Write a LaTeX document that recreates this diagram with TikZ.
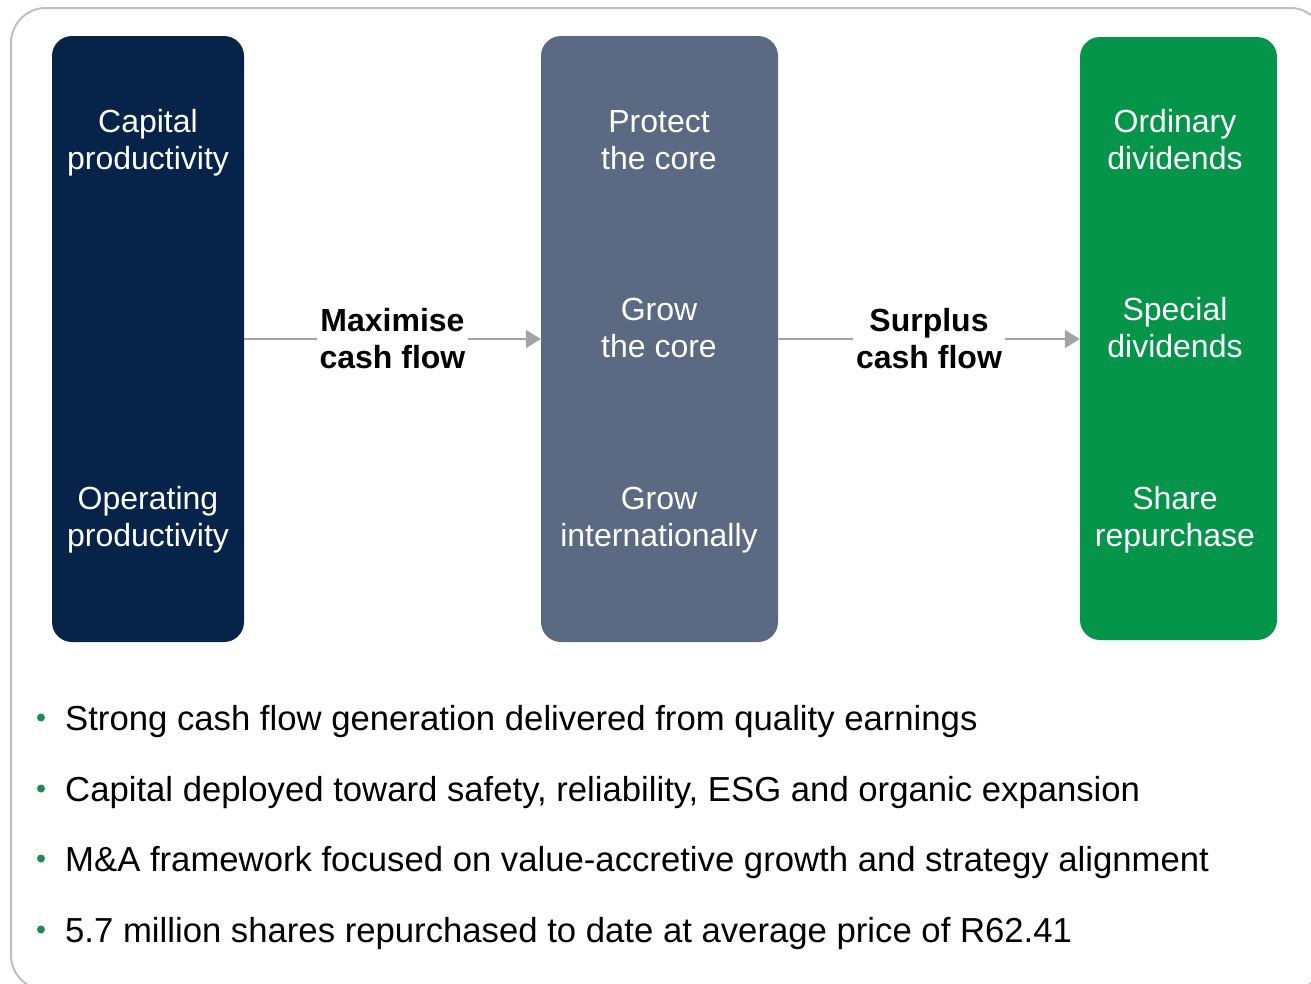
\documentclass[tikz,border=0pt]{standalone}
\usepackage{fontspec}
\setmainfont{Liberation Sans}
\usetikzlibrary{arrows.meta}

\definecolor{navy}{HTML}{06234A}
\definecolor{slate}{HTML}{5B6A82}
\definecolor{leaf}{HTML}{04944A}
\definecolor{dot}{HTML}{1E8C4E}
\definecolor{frame}{HTML}{BFBFBF}
\definecolor{link}{HTML}{A3A3A3}

\tikzset{
    column/.style={rounded corners=20, minimum height=606},
    inbox/.style={text=white, align=center, font=\fontsize{32}{37}\selectfont},
    flowlabel/.style={fill=white, inner xsep=3, inner ysep=2, align=center, font=\fontsize{32}{37}\selectfont\bfseries},
    flow/.style={draw=link, line width=2, -{Triangle[length=15,width=18]}},
    bullet/.style={anchor=base west, font=\fontsize{34.7}{40}\selectfont, inner sep=0}
}

\begin{document}
\begin{tikzpicture}[x=1pt, y=-1pt]
    \clip (0,0) rectangle (1311,983);
    \draw[frame, line width=2, rounded corners=35] (11,8) rectangle (1325,990);

    \node[column, fill=navy, minimum width=192] (cap) at (148,339) {};
    \node[column, fill=slate, minimum width=237] (core) at (659.5,339) {};
    \node[column, fill=leaf, minimum width=197, minimum height=603] (ret) at (1178.5,338.5) {};

    \node[inbox] (capp) at (148,143) {Capital\\productivity};
    \node[inbox] (opp) at (148,520) {Operating\\productivity};
    \node[inbox] (prot) at (659,140) {Protect\\the core};
    \node[inbox] (grow) at (659,328) {Grow\\the core};
    \node[inbox] (intl) at (659,520) {Grow\\internationally};
    \node[inbox] (ord) at (1175,140) {Ordinary\\dividends};
    \node[inbox] (spec) at (1175,328) {Special\\dividends};
    \node[inbox] (buy) at (1175,520) {Share\\repurchase};

    \draw[flow] (cap.east |- 0,339) -- node[flowlabel] (maxcf) {Maximise\\cash flow} (core.west |- 0,339);
    \draw[flow] (core.east |- 0,339) -- node[flowlabel] (surcf) {Surplus\\cash flow} (ret.west |- 0,339);

    \foreach \y/\txt [count=\i] in {730/Strong cash flow generation delivered from quality earnings,
        801/{Capital deployed toward safety, reliability, ESG and organic expansion},
        871/M\&A framework focused on value-accretive growth and strategy alignment,
        942/5.7 million shares repurchased to date at average price of R62.41} {
        \fill[dot] (41,\y-12.5) circle (4);
        \node[bullet] (point\i) at (65,\y) {\txt};
    }
\end{tikzpicture}
\end{document}
